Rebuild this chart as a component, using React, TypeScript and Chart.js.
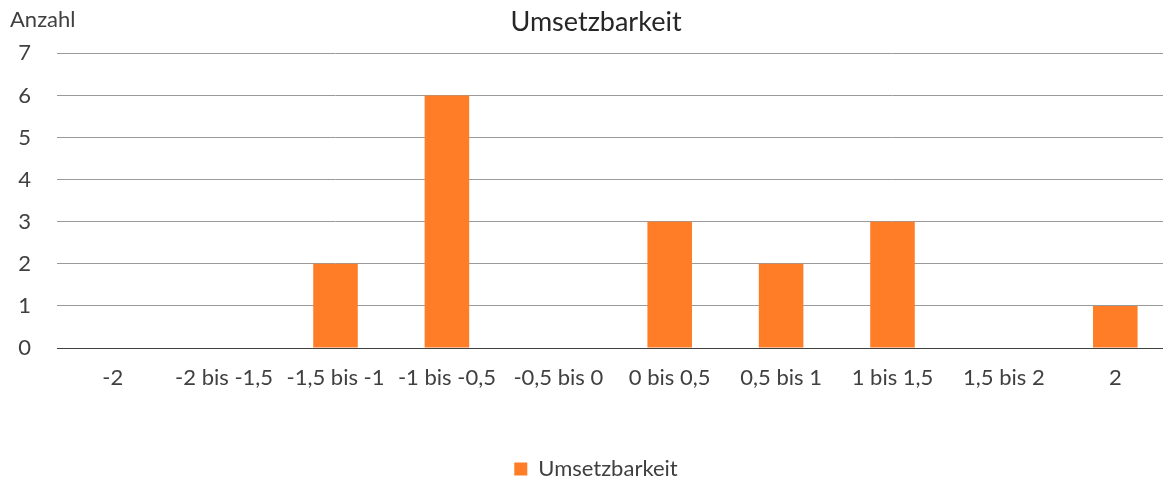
import React, { useEffect, useRef } from "react";
import { Chart, registerables } from "chart.js";

Chart.register(...registerables);

const categories = ["-2", "-2 bis -1,5", "-1,5 bis -1", "-1 bis -0,5", "-0,5 bis 0", "0 bis 0,5", "0,5 bis 1", "1 bis 1,5", "1,5 bis 2", "2"];
const seriesName = "Umsetzbarkeit";
const values = [0, 0, 2, 6, 0, 3, 2, 3, 0, 1];
const chartTitle = "Umsetzbarkeit";
const yAxisLabel = "Anzahl";
const yMin = 0;
const yMax = 7;

const FONT = "Lato, 'Noto Sans', sans-serif";

const axisLabelPlugin = {
  id: "axisLabel",
  afterDraw(chart: any) {
    const ctx = chart.ctx;
    ctx.save();
    ctx.font = `22px ${FONT}`;
    ctx.fillStyle = "#404040";
    ctx.textBaseline = "alphabetic";
    ctx.textAlign = "left";
    ctx.fillText(yAxisLabel, 10, 27);
    ctx.restore();
  },
};

export default function App() {
  const canvasRef = useRef<HTMLCanvasElement>(null);

  useEffect(() => {
    if (!canvasRef.current) return;
    const chart = new Chart(canvasRef.current, {
      type: "bar",
      data: {
        labels: categories,
        datasets: [
          {
            label: seriesName,
            data: values,
            backgroundColor: "#FF7D27",
            borderWidth: 0,
            barPercentage: 0.4,
            categoryPercentage: 1,
          },
        ],
      },
      options: {
        responsive: false,
        animation: false,
        layout: { padding: 0 },
        plugins: {
          title: {
            display: true,
            text: chartTitle,
            color: "#262626",
            font: { family: FONT, size: 27, weight: "normal" },
            padding: { top: 6, bottom: 15 },
          },
          legend: {
            position: "bottom",
            labels: {
              color: "#404040",
              font: { family: FONT, size: 22 },
              boxWidth: 13,
              boxHeight: 13,
              padding: 10,
            },
          },
          tooltip: { enabled: false },
        },
        scales: {
          x: {
            grid: { display: false, drawTicks: false },
            border: { display: true, color: "#404040", width: 1 },
            ticks: {
              color: "#404040",
              font: { family: FONT, size: 22 },
              padding: 17,
              maxRotation: 0,
              autoSkip: false,
            },
            afterFit(scale: any) {
              scale.height = 100;
            },
          },
          y: {
            min: yMin,
            max: yMax,
            grid: {
              drawTicks: false,
              color: (c: any) => (c.tick && c.tick.value === 0 ? "#404040" : "#9a9a9a"),
              lineWidth: 1,
            },
            border: { display: false },
            ticks: {
              stepSize: 1,
              color: "#404040",
              font: { family: FONT, size: 22 },
              padding: 26,
            },
            afterFit(scale: any) {
              scale.width = 57;
            },
          },
          spacer: {
            type: "linear",
            position: "right",
            display: true,
            min: yMin,
            max: yMax,
            grid: { display: false, drawTicks: false },
            border: { display: false },
            ticks: { display: false },
            afterFit(scale: any) {
              scale.width = 21;
            },
          },
        },
      },
      plugins: [axisLabelPlugin],
    });
    return () => chart.destroy();
  }, []);

  return (
    <div style={{ position: "fixed", left: 0, top: 0, width: "100vw", height: "100vh", overflow: "hidden", background: "#fff" }}>
      <canvas ref={canvasRef} width={1192} height={490} style={{ display: "block", width: 1192, height: 490 }} />
    </div>
  );
}
